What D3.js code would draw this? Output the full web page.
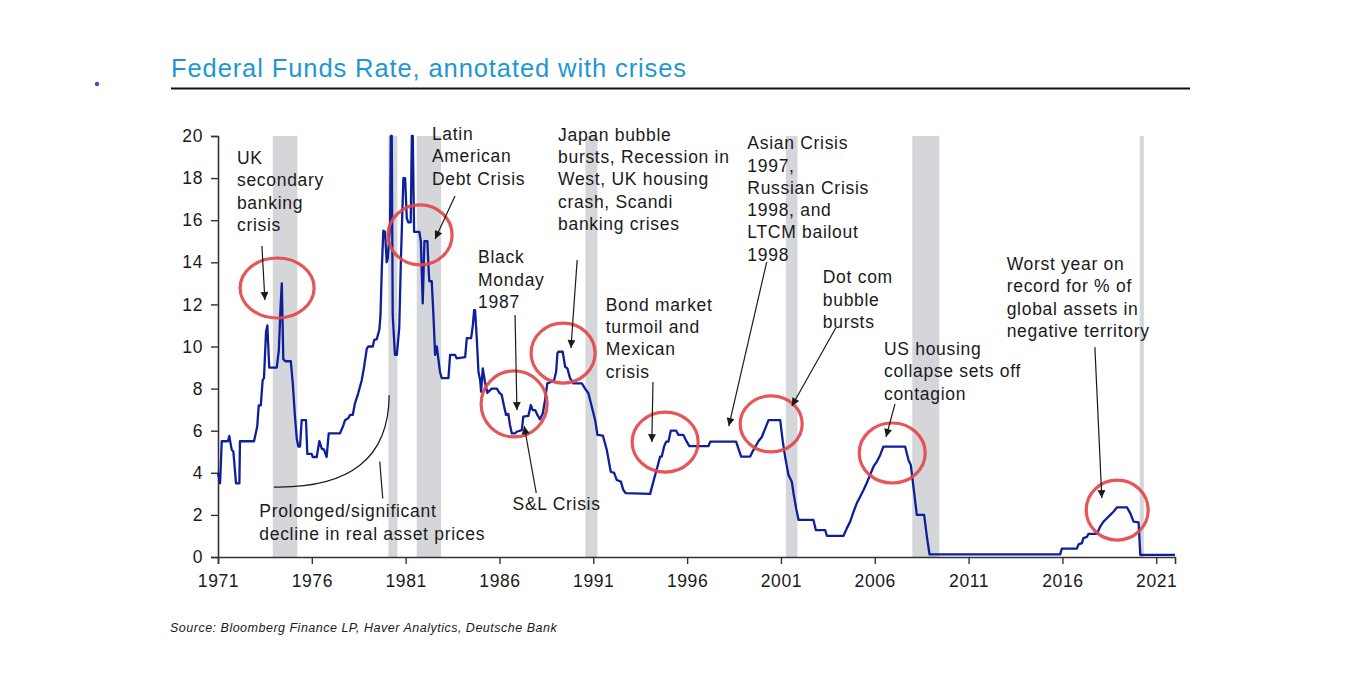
<!DOCTYPE html>
<html><head><meta charset="utf-8">
<script src="https://cdn.jsdelivr.net/npm/d3@7"></script>
<style>
html,body{margin:0;padding:0;background:#fff;}
svg text{font-family:"Liberation Sans",Arial,sans-serif;}
</style></head>
<body><svg id="chart" width="1350" height="679"></svg>
<script>
// ---------- DATA ----------
const title = "Federal Funds Rate, annotated with crises";
const source = "Source: Bloomberg Finance LP, Haver Analytics, Deutsche Bank";
const xTicks = [1971,1976,1981,1986,1991,1996,2001,2006,2011,2016,2021];
const yTicks = [0,2,4,6,8,10,12,14,16,18,20];
// recessions (start, end) in decimal years
const recessions = [[1973.92,1975.23],[1980.08,1980.56],[1981.59,1982.89],[1990.58,1991.22],[2001.26,2001.88],[2008.0,2009.44],[2020.12,2020.34]];
// fed funds rate, [decimal year, %]
const years = [1971.00,1971.11,1971.20,1971.53,1971.60,1971.73,1971.82,1971.96,1972.14,1972.17,1972.92,1973.09,1973.17,1973.28,1973.38,1973.45,1973.56,1973.63,1973.73,1974.13,1974.24,1974.34,1974.40,1974.48,1974.59,1974.88,1974.98,1975.10,1975.20,1975.28,1975.37,1975.46,1975.69,1975.76,1975.99,1976.05,1976.26,1976.40,1976.53,1976.65,1976.79,1976.90,1977.50,1977.68,1977.77,1977.95,1978.04,1978.18,1978.30,1978.48,1978.66,1978.78,1978.93,1979.01,1979.25,1979.32,1979.46,1979.60,1979.66,1979.73,1979.81,1979.90,1979.99,1980.05,1980.17,1980.21,1980.26,1980.31,1980.43,1980.53,1980.66,1980.75,1980.88,1980.97,1981.06,1981.14,1981.27,1981.33,1981.38,1981.45,1981.73,1981.81,1981.91,1982.00,1982.16,1982.21,1982.26,1982.39,1982.48,1982.57,1982.66,1982.74,1982.83,1982.92,1983.28,1983.37,1983.63,1983.72,1984.17,1984.26,1984.49,1984.58,1984.65,1984.70,1984.79,1984.88,1984.97,1985.02,1985.11,1985.23,1985.35,1985.59,1985.86,1986.00,1986.12,1986.25,1986.35,1986.47,1986.56,1986.66,1986.83,1986.92,1987.19,1987.27,1987.54,1987.67,1987.77,1987.90,1988.02,1988.16,1988.31,1988.43,1988.55,1988.79,1988.91,1989.02,1989.09,1989.14,1989.37,1989.50,1989.62,1989.76,1989.94,1990.39,1990.56,1990.74,1990.92,1991.10,1991.22,1991.51,1991.72,1991.93,1992.11,1992.25,1992.47,1992.60,1992.73,1994.03,1994.20,1994.42,1994.56,1994.65,1994.77,1994.88,1995.00,1995.13,1995.41,1995.54,1995.80,1995.98,1996.12,1997.14,1997.23,1998.61,1998.88,1999.36,1999.53,1999.80,1999.98,2000.16,2000.34,2000.96,2001.10,2001.22,2001.40,2001.58,2001.67,2001.81,2001.94,2002.73,2002.86,2003.36,2003.45,2004.33,2004.51,2004.69,2004.87,2005.04,2005.22,2005.40,2005.58,2005.75,2005.93,2006.11,2006.29,2006.46,2007.62,2007.80,2007.92,2008.06,2008.21,2008.24,2008.63,2008.78,2008.92,2015.88,2015.97,2016.77,2016.86,2017.04,2017.12,2017.31,2017.39,2017.84,2018.01,2018.19,2018.37,2018.55,2018.72,2018.91,2019.44,2019.62,2019.79,2020.06,2020.15,2022.00];
const rates = [4.0,3.5,5.5,5.5,5.75,5.1,5.0,3.5,3.5,5.5,5.5,6.2,7.2,7.2,8.4,8.5,10.7,11.0,9.0,9.0,9.8,12.0,13.0,9.4,9.3,9.3,8.3,6.7,5.6,5.25,5.25,6.5,6.5,4.9,4.9,4.75,4.75,5.5,5.15,5.1,4.75,5.875,5.875,6.25,6.5,6.6,6.75,6.75,7.3,7.8,8.4,9.0,9.9,10.0,10.0,10.3,10.35,10.8,11.5,13.7,15.5,15.45,14.0,14.2,15.8,20.0,20.0,11.5,9.6,9.6,10.9,14.2,18.0,18.0,16.1,15.9,15.9,20.0,20.0,15.45,15.45,15.0,12.05,15.0,15.0,13.9,13.1,13.1,11.5,9.6,10.0,9.44,8.8,8.5,8.5,9.6,9.6,9.44,9.5,10.4,10.4,11.0,11.73,11.73,10.4,8.8,8.4,7.85,8.96,8.3,7.8,8.0,8.0,7.8,7.7,7.14,6.75,6.8,6.27,5.87,5.87,5.95,6.03,6.67,6.7,7.22,6.98,6.98,6.75,6.54,6.83,7.46,8.25,8.33,8.4,8.8,9.68,9.75,9.75,9.04,8.96,8.5,8.25,8.25,8.0,7.78,7.14,6.5,5.8,5.77,5.08,4.05,4.0,3.66,3.58,3.18,3.03,3.0,3.58,4.29,4.77,4.77,5.24,5.48,5.48,6.0,6.0,5.8,5.8,5.48,5.27,5.27,5.48,5.48,4.77,4.77,5.08,5.5,5.7,6.1,6.5,6.5,5.48,4.77,3.9,3.58,3.03,2.31,1.76,1.76,1.28,1.28,1.0,1.0,1.36,1.68,2.15,2.55,2.86,3.18,3.53,3.9,4.29,4.53,4.85,5.24,5.24,4.6,4.37,3.34,2.23,2.0,2.0,0.96,0.12,0.12,0.4,0.4,0.6,0.66,0.9,0.96,1.1,1.1,1.44,1.68,1.84,2.0,2.15,2.36,2.36,2.07,1.68,1.64,0.1,0.1];

// annotations (anchored in data units: year, rate)
const labelTexts = [
  ["UK","secondary","banking","crisis"],
  ["Latin","American","Debt Crisis"],
  ["Japan bubble","bursts, Recession in","West, UK housing","crash, Scandi","banking crises"],
  ["Black","Monday","1987"],
  ["Bond market","turmoil and","Mexican","crisis"],
  ["Asian Crisis","1997,","Russian Crisis","1998, and","LTCM bailout","1998"],
  ["Dot com","bubble","bursts"],
  ["US housing","collapse sets off","contagion"],
  ["Worst year on","record for % of","global assets in","negative territory"],
  ["S&L Crisis"],
  ["Prolonged/significant","decline in real asset prices"]
];
const labelAnchors = [[1972.01,18.67],[1982.40,19.81],[1989.12,19.78],[1984.86,13.95],[1991.66,11.70],[1999.21,19.37],[2003.23,13.00],[2006.49,9.60],[2013.03,13.63],[1986.70,2.23],[1973.20,1.89]];
const circleCenters = [[1974.15,12.78],[1981.77,15.30],[1986.78,7.27],[1989.39,9.69],[1994.83,5.46],[2000.48,6.32],[2006.93,4.94],[2018.92,2.23]];
const arrowStarts = [[1973.34,14.77],[1983.63,17.15],[1986.83,11.50],[1987.96,3.04],[1990.14,14.11],[1994.18,8.31],[2000.24,14.01],[2003.92,10.88],[2007.08,7.27],[2017.73,9.97]];
const arrowEnds   = [[1973.50,12.21],[1982.57,15.11],[1986.93,6.98],[1987.32,6.22],[1989.81,9.93],[1994.12,5.46],[1998.22,6.22],[2001.58,7.17],[2006.60,5.70],[2018.10,2.80]];
const bracketPts = [[1973.98,3.32],[1980.10,3.23],[1980.12,7.69]]; // start, control, end
const bracketStem = [[1979.62,4.53],[1979.78,2.78]];

// ---------- CHART ----------
const svg = d3.select("#chart");
const x = d3.scaleLinear().domain([1971, 2022]).range([218, 1175]);
const y = d3.scaleLinear().domain([0, 20]).range([557, 136]);
const ink = "#1a1a1a";

// title
svg.append("circle").attr("cx",97).attr("cy",84).attr("r",2.2).attr("fill","#4b4bc4");
svg.append("text").attr("x",171).attr("y",77).attr("fill","#1d97d4")
  .attr("font-size",25.5).attr("letter-spacing",0.9).text(title);
svg.append("line").attr("x1",171).attr("x2",1190).attr("y1",88.5).attr("y2",88.5)
  .attr("stroke","#111").attr("stroke-width",2);

// recession bars
svg.append("g").selectAll("rect").data(recessions).join("rect")
  .attr("x", d => x(d[0])).attr("width", d => x(d[1]) - x(d[0]))
  .attr("y", y(20)).attr("height", y(0) - y(20))
  .attr("fill", "#d5d6da");

// axes
const gx = svg.append("g").attr("transform", `translate(0,${y(0)})`)
  .call(d3.axisBottom(x).tickValues(xTicks).tickFormat(d3.format("d")).tickSizeOuter(0).tickSize(7).tickPadding(6));
const gy = svg.append("g").attr("transform", `translate(${x(1971)},0)`)
  .call(d3.axisLeft(y).tickValues(yTicks).tickSizeOuter(0).tickSize(7).tickPadding(8));
[gx, gy].forEach(g => {
  g.select(".domain").attr("stroke", "#333").attr("stroke-width", 1.6);
  g.selectAll(".tick line").attr("stroke", "#333").attr("stroke-width", 1.4);
  g.selectAll(".tick text").attr("fill", ink).attr("font-size", 17.5)
    .attr("font-family", "Liberation Sans, Arial, sans-serif").attr("letter-spacing", 0.6);
});
gx.selectAll(".tick text").attr("dy", "0.95em");

// line
const series = years.map((yr, i) => [yr, rates[i]]);
svg.append("path").datum(series)
  .attr("fill", "none").attr("stroke", "#0e1f9c").attr("stroke-width", 2.3)
  .attr("stroke-linejoin", "round")
  .attr("d", d3.line().x(d => x(d[0])).y(d => y(d[1])));

// circles
const circleRx = [37,32,33,32,33,31,33,31], circleRy = [30,30,33,30,30,28,30,30];
svg.append("g").selectAll("ellipse").data(circleCenters).join("ellipse")
  .attr("cx", d => x(d[0])).attr("cy", d => y(d[1]))
  .attr("rx", (d, i) => circleRx[i]).attr("ry", (d, i) => circleRy[i])
  .attr("fill", "none").attr("stroke", "#e4474a").attr("stroke-width", 3.2).attr("stroke-opacity", 0.92);

// arrows
svg.append("defs").append("marker").attr("id", "ah")
  .attr("viewBox", "0 0 10 10").attr("refX", 10).attr("refY", 5)
  .attr("markerWidth", 10).attr("markerHeight", 8).attr("markerUnits", "userSpaceOnUse")
  .attr("orient", "auto")
  .append("path").attr("d", "M0,0 L10,5 L0,10 z").attr("fill", ink);
svg.append("g").selectAll("line").data(arrowStarts).join("line")
  .attr("x1", d => x(d[0])).attr("y1", d => y(d[1]))
  .attr("x2", (d, i) => x(arrowEnds[i][0])).attr("y2", (d, i) => y(arrowEnds[i][1]))
  .attr("stroke", ink).attr("stroke-width", 1.2).attr("marker-end", "url(#ah)");

// bracket curve
const [b0, bc, b1] = bracketPts;
svg.append("path")
  .attr("d", `M${x(b0[0])},${y(b0[1])} Q${x(bc[0])},${y(bc[1])} ${x(b1[0])},${y(b1[1])}`)
  .attr("fill", "none").attr("stroke", ink).attr("stroke-width", 1.2);
svg.append("line").attr("x1", x(bracketStem[0][0])).attr("y1", y(bracketStem[0][1]))
  .attr("x2", x(bracketStem[1][0])).attr("y2", y(bracketStem[1][1]))
  .attr("stroke", ink).attr("stroke-width", 1.2);

// labels
const lh = 22.3;
labelTexts.forEach((lines, i) => {
  const t = svg.append("text").attr("fill", ink).attr("font-size", 17.5).attr("letter-spacing", 0.7);
  lines.forEach((ln, j) => {
    t.append("tspan").attr("x", x(labelAnchors[i][0])).attr("y", y(labelAnchors[i][1]) + j * lh).text(ln);
  });
});

// source
svg.append("text").attr("x", 170).attr("y", 632).attr("fill", ink)
  .attr("font-size", 12.5).attr("font-style", "italic").attr("letter-spacing", 0.5).text(source);
</script></body></html>
